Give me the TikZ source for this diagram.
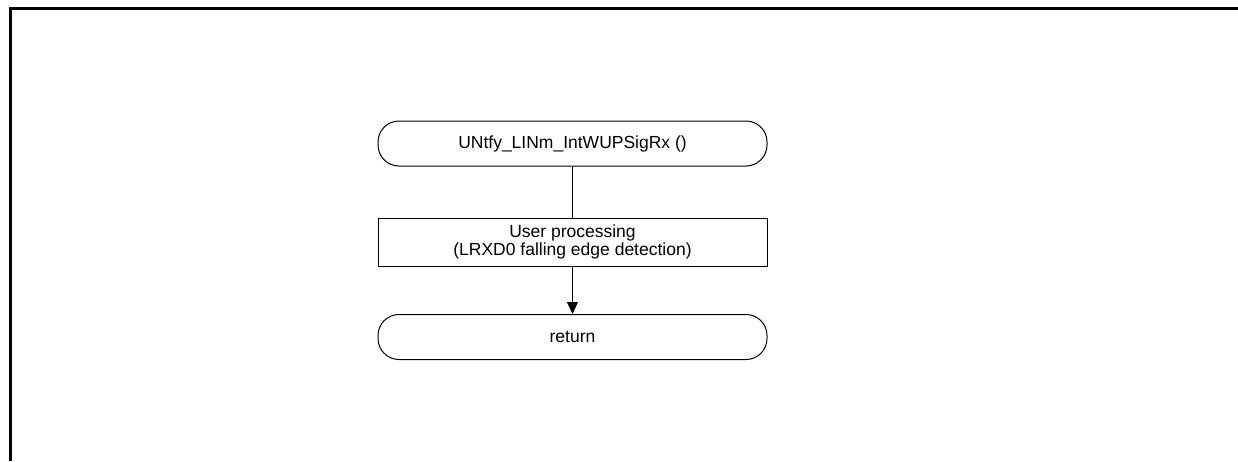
\documentclass[tikz,border=0pt]{standalone}
\usepackage{fontspec}
\setmainfont{Liberation Sans}
\usetikzlibrary{arrows.meta}
\tikzset{
  every node/.style={font=\fontsize{17.5}{18.5}\selectfont},
  terminal/.style={draw=black, line width=1pt, rounded corners=21pt, minimum width=389pt, minimum height=45pt, inner sep=0pt, align=center},
  procbox/.style={draw=black, line width=1pt, minimum width=389pt, minimum height=48pt, inner sep=0pt, align=center},
  flow/.style={draw=black, line width=1pt},
  frameline/.style={draw=black, line width=3pt}
}
\begin{document}
\begin{tikzpicture}[x=1pt,y=-1pt]
\useasboundingbox (0,0) rectangle (1238,461);
\draw[frameline] (10.5,461) -- (10.5,8.5) -- (1238,8.5);
\node[terminal] (start) at (572.5,143.5) {UNtfy\_LINm\_IntWUPSigRx ()};
\node[procbox] (proc) at (572.5,242) {User processing\\(LRXD0 falling edge detection)};
\node[terminal] (ret) at (572.5,337) {return};
\draw[flow] (start) -- (proc);
\draw[flow, -{Triangle[width=11pt,length=12pt]}] (proc) -- (ret);
\end{tikzpicture}
\end{document}
